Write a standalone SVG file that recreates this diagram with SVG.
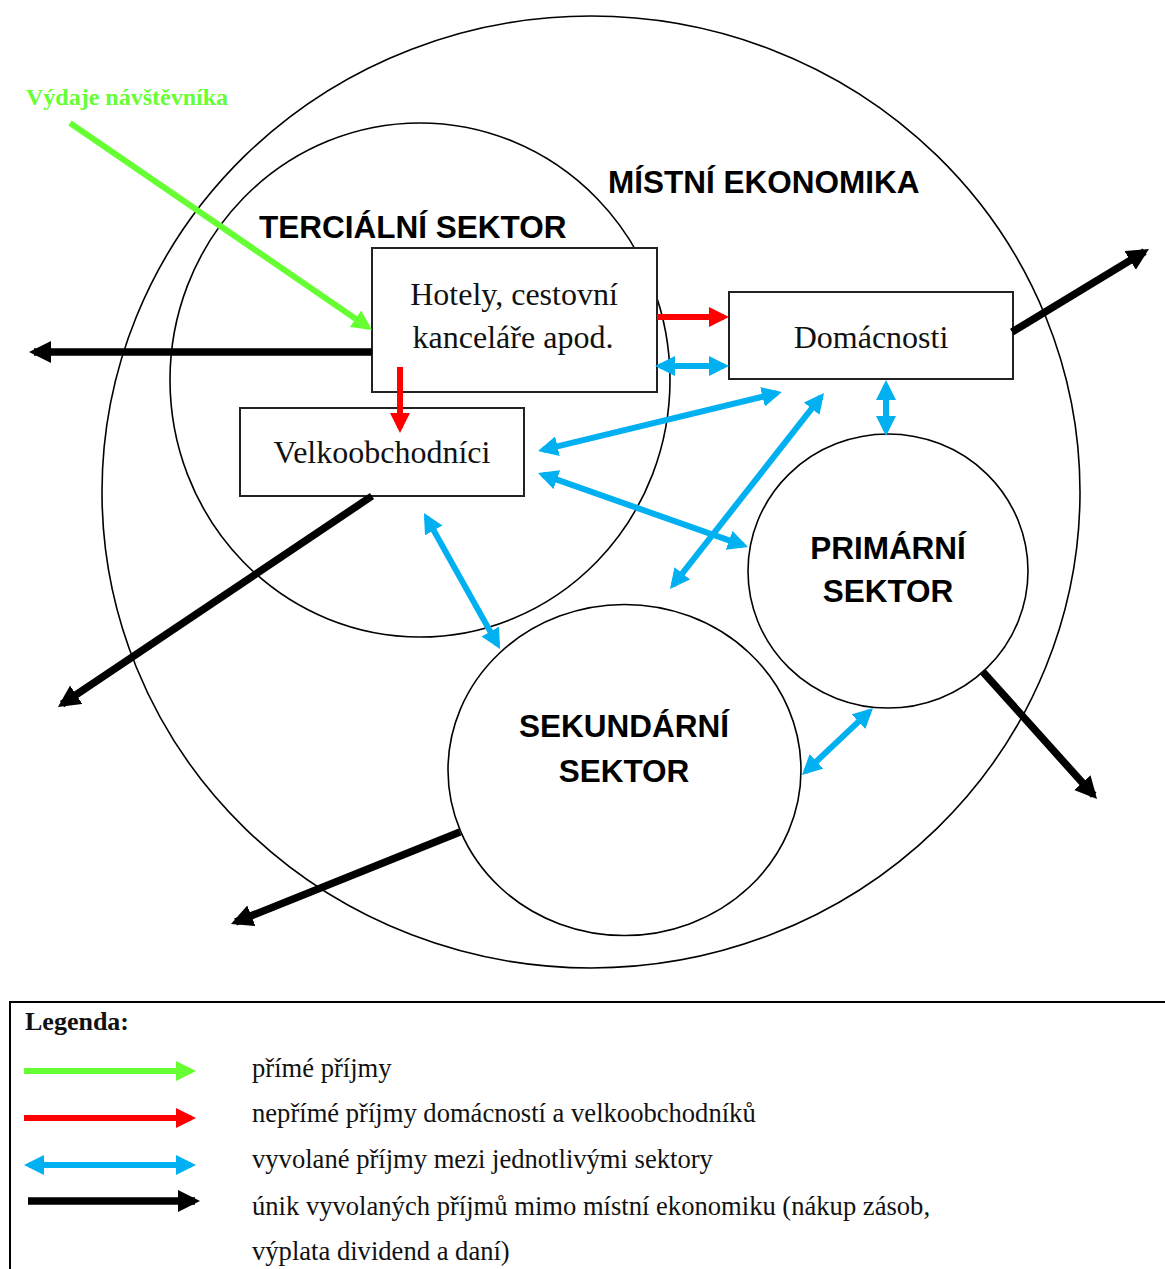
<svg xmlns="http://www.w3.org/2000/svg" width="1165" height="1269" viewBox="0 0 1165 1269">
<style>
.circ{fill:none;stroke:#000;stroke-width:1.6}
.box{fill:#fff;stroke:#222;stroke-width:2}
.sans{font-family:"Liberation Sans",Arial,sans-serif;font-weight:bold;font-size:31.5px;fill:#000}
.serif{font-family:"Liberation Serif","Times New Roman",serif;font-size:32px;fill:#111}
.leg{font-family:"Liberation Serif","Times New Roman",serif;font-size:26.6px;fill:#111}
.g{stroke:#66FF33;stroke-width:6;fill:none}
.r{stroke:#FF0000;stroke-width:6;fill:none}
.b{stroke:#00B0F0;stroke-width:6;fill:none}
.k{stroke:#000;stroke-width:7.5;fill:none}
</style>
<defs>
<marker id="hg" markerUnits="userSpaceOnUse" markerWidth="22" markerHeight="22" refX="15" refY="10" orient="auto-start-reverse"><path d="M0,0 L20,10 L0,20 z" fill="#66FF33"/></marker>
<marker id="hr" markerUnits="userSpaceOnUse" markerWidth="22" markerHeight="22" refX="15" refY="10" orient="auto-start-reverse"><path d="M0,0 L20,10 L0,20 z" fill="#FF0000"/></marker>
<marker id="hb" markerUnits="userSpaceOnUse" markerWidth="22" markerHeight="22" refX="15" refY="10" orient="auto-start-reverse"><path d="M0,0 L20,10 L0,20 z" fill="#00B0F0"/></marker>
<marker id="hk" markerUnits="userSpaceOnUse" markerWidth="24" markerHeight="24" refX="17" refY="11" orient="auto-start-reverse"><path d="M0,0 L22,11 L0,22 z" fill="#000"/></marker>
</defs>
<rect width="1165" height="1269" fill="#fff"/>

<g id="mistni-ekonomika">
<ellipse class="circ" cx="591" cy="492" rx="489" ry="476"/>
<text class="sans" x="608" y="193">MÍSTNÍ EKONOMIKA</text>
</g>
<g id="tercialni-sektor">
<ellipse class="circ" cx="420" cy="380" rx="250" ry="257"/>
<text class="sans" x="259" y="238">TERCIÁLNÍ SEKTOR</text>
</g>
<g id="primarni-sektor">
<ellipse class="circ" cx="888" cy="571" rx="140" ry="137"/>
<text class="sans" x="888" y="559" text-anchor="middle">PRIMÁRNÍ</text>
<text class="sans" x="888" y="602" text-anchor="middle">SEKTOR</text>
</g>
<g id="sekundarni-sektor">
<ellipse class="circ" cx="624.5" cy="770" rx="176.5" ry="165.5"/>
<text class="sans" x="624" y="737" text-anchor="middle">SEKUNDÁRNÍ</text>
<text class="sans" x="624" y="782" text-anchor="middle">SEKTOR</text>
</g>
<g id="hotely">
<rect class="box" x="372" y="248" width="285" height="144"/>
<text class="serif" x="514" y="305" text-anchor="middle">Hotely, cestovní</text>
<text class="serif" x="513" y="348" text-anchor="middle">kanceláře apod.</text>
</g>
<g id="domacnosti">
<rect class="box" x="729" y="292" width="284" height="87"/>
<text class="serif" x="871" y="348" text-anchor="middle">Domácnosti</text>
</g>
<g id="velkoobchodnici">
<rect class="box" x="240" y="408" width="284" height="88"/>
<text class="serif" x="382" y="463" text-anchor="middle">Velkoobchodníci</text>
</g>
<g id="vydaje-navstevnika">
<text x="26" y="105" font-family="Liberation Serif, Times New Roman, serif" font-weight="bold" font-size="24" fill="#66FF33">Výdaje návštěvníka</text>
</g>

<g id="connectors">
<line class="g" x1="70" y1="123" x2="367.9" y2="327.2" marker-end="url(#hg)"/>
<line class="k" x1="372" y1="352" x2="34" y2="352" marker-end="url(#hk)"/>
<line class="r" x1="657" y1="317" x2="724" y2="317" marker-end="url(#hr)"/>
<line class="r" x1="400" y1="367" x2="400" y2="428" marker-end="url(#hr)"/>
<line class="b" x1="660" y1="366" x2="724" y2="366" marker-start="url(#hb)" marker-end="url(#hb)"/>
<line class="b" x1="886" y1="385" x2="886" y2="431" marker-start="url(#hb)" marker-end="url(#hb)"/>
<line class="b" x1="542.9" y1="449.8" x2="777.1" y2="393.2" marker-start="url(#hb)" marker-end="url(#hb)"/>
<line class="b" x1="542.7" y1="474.7" x2="743.3" y2="545.3" marker-start="url(#hb)" marker-end="url(#hb)"/>
<line class="b" x1="820.9" y1="396.9" x2="673.1" y2="585.1" marker-start="url(#hb)" marker-end="url(#hb)"/>
<line class="b" x1="426.4" y1="517.4" x2="497.6" y2="644.6" marker-start="url(#hb)" marker-end="url(#hb)"/>
<line class="b" x1="869.4" y1="711.4" x2="805.6" y2="771.6" marker-start="url(#hb)" marker-end="url(#hb)"/>
<line class="k" x1="1012" y1="332" x2="1144.7" y2="251.6" marker-end="url(#hk)"/>
<line class="k" x1="372" y1="496" x2="62.1" y2="704.2" marker-end="url(#hk)"/>
<line class="k" x1="983" y1="672" x2="1093.7" y2="795.3" marker-end="url(#hk)"/>
<line class="k" x1="460" y1="832" x2="235.6" y2="922.1" marker-end="url(#hk)"/>
</g>

<g id="legenda">
<rect x="10" y="1002" width="1200" height="300" fill="none" stroke="#000" stroke-width="2"/>
<text x="25" y="1030" font-family="Liberation Serif, Times New Roman, serif" font-weight="bold" font-size="26" fill="#111">Legenda:</text>
<line class="g" x1="24" y1="1071" x2="191" y2="1071" marker-end="url(#hg)"/>
<line class="r" x1="24" y1="1118" x2="191" y2="1118" marker-end="url(#hr)"/>
<line class="b" x1="29" y1="1165" x2="191" y2="1165" marker-start="url(#hb)" marker-end="url(#hb)"/>
<line class="k" x1="28" y1="1201" x2="195" y2="1201" marker-end="url(#hk)"/>
<text class="leg" x="252" y="1077">přímé příjmy</text>
<text class="leg" x="252" y="1122">nepřímé příjmy domácností a velkoobchodníků</text>
<text class="leg" x="252" y="1168">vyvolané příjmy mezi jednotlivými sektory</text>
<text class="leg" x="252" y="1215">únik vyvolaných příjmů mimo místní ekonomiku (nákup zásob,</text>
<text class="leg" x="252" y="1260">výplata dividend a daní)</text>
</g>
</svg>
